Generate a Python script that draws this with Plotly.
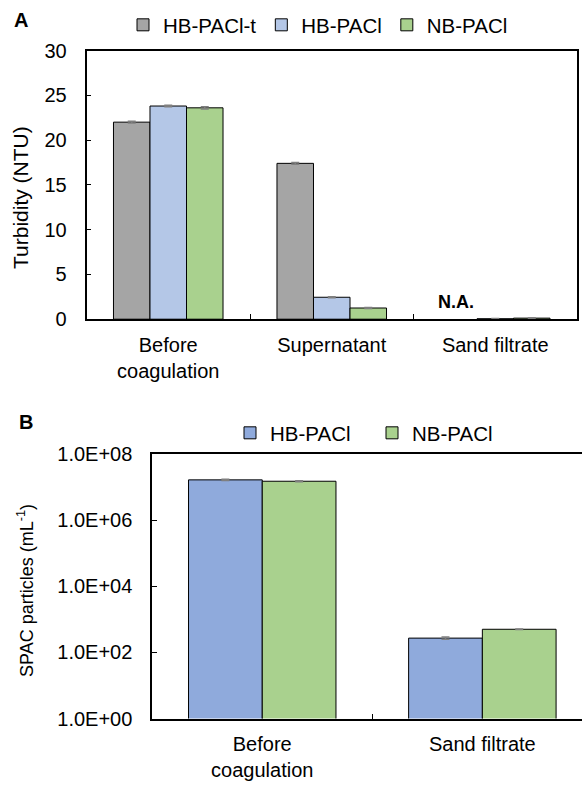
import plotly.graph_objects as go

# ---- Panel A: turbidity ----
categories_a = ["Before coagulation", "Supernatant", "Sand filtrate"]
tick_labels_a = ["Before<br>coagulation", "Supernatant", "Sand filtrate"]
hb_t_turbidity = [22.0, 17.4, None]          # no value for sand filtrate (N.A.)
hb_turbidity = [23.8, 2.45, 0.05]
nb_turbidity = [23.6, 1.25, 0.12]
hb_t_turbidity_err = [0.1, 0.1, 0.0]
hb_turbidity_err = [0.08, 0.06, 0.02]
nb_turbidity_err = [0.12, 0.05, 0.03]
y_ticks_a = [0, 5, 10, 15, 20, 25, 30]

# ---- Panel B: SPAC particle counts ----
categories_b = ["Before coagulation", "Sand filtrate"]
tick_labels_b = ["Before<br>coagulation", "Sand filtrate"]
hb_particles = [1.65e7, 270]
nb_particles = [1.5e7, 500]
hb_particles_err = [6e5, 20]
nb_particles_err = [6e5, 10]
y_ticks_b = [1, 1e2, 1e4, 1e6, 1e8]
y_tick_text_b = ["1.0E+00", "1.0E+02", "1.0E+04", "1.0E+06", "1.0E+08"]

FONT = "Liberation Sans, Arial, sans-serif"
W, H = 582, 785
GREY, LBLUE, GREEN, BLUE = "#A5A5A5", "#B4C7E7", "#A9D18E", "#8FAADC"


def px_x(p):
    return p / W


def px_y(p):
    return 1 - p / H


def err(arr):
    return dict(type="data", array=arr, visible=True, color="#7F7F7F",
                thickness=1.5, width=4)


fig = go.Figure()

for name, vals, e, col in [("HB-PACl-t", hb_t_turbidity, hb_t_turbidity_err, GREY),
                           ("HB-PACl", hb_turbidity, hb_turbidity_err, LBLUE),
                           ("NB-PACl", nb_turbidity, nb_turbidity_err, GREEN)]:
    fig.add_trace(go.Bar(x=categories_a, y=vals, name=name, error_y=err(e),
                         marker=dict(color=col, line=dict(color="black", width=1)),
                         xaxis="x", yaxis="y", legend="legend"))

for name, vals, e, col, lg in [("HB-PACl", hb_particles, hb_particles_err, BLUE, "legend2"),
                               ("NB-PACl", nb_particles, nb_particles_err, GREEN, "legend3")]:
    fig.add_trace(go.Bar(x=categories_b, y=vals, name=name, error_y=err(e),
                         marker=dict(color=col, line=dict(color="black", width=1)),
                         xaxis="x2", yaxis="y2", legend=lg))

axis_common = dict(showline=True, linecolor="black", linewidth=1.7,
                   ticks="inside", ticklen=5, tickwidth=1, tickcolor="black",
                   showgrid=False, zeroline=False, automargin=False,
                   tickfont=dict(family=FONT, size=20, color="black"))

legend_common = dict(orientation="h", font=dict(family=FONT, size=20.5, color="black"),
                     bgcolor="rgba(0,0,0,0)", borderwidth=0, itemclick=False,
                     xanchor="left", yanchor="middle")

fig.update_layout(
    template="none",
    width=W, height=H, margin=dict(l=0, r=0, t=0, b=0, pad=0, autoexpand=False),
    paper_bgcolor="white", plot_bgcolor="white",
    barmode="group", bargap=0.33, bargroupgap=0,
    font=dict(family=FONT, color="black"),
    xaxis=dict(domain=[px_x(86.5), px_x(577)], anchor="y", mirror=True,
               type="category", range=[-0.5, 2.5], tickson="boundaries",
               tickvals=categories_a, ticktext=tick_labels_a, ticklabelstandoff=7,
               **axis_common),
    yaxis=dict(domain=[px_y(319.2), px_y(50.5)], anchor="x", mirror=True,
               range=[0, 30], tickvals=y_ticks_a, ticklabelstandoff=14,
               **axis_common),
    xaxis2=dict(domain=[px_x(152.2), 1.0], anchor="y2", mirror=True,
                type="category", range=[-0.5, -0.5 + (582 - 152.2) / 220.1],
                tickson="boundaries", tickvals=categories_b, ticktext=tick_labels_b,
                ticklabelstandoff=7, **axis_common),
    yaxis2=dict(domain=[px_y(718.5), px_y(454)], anchor="x2", type="log",
                range=[0, 8], tickvals=y_ticks_b, ticktext=y_tick_text_b,
                ticklabelstandoff=14, **axis_common),
    legend=dict(x=px_x(123), y=px_y(25), **legend_common),
    legend2=dict(x=px_x(230), y=px_y(433), **legend_common),
    legend3=dict(x=px_x(372), y=px_y(433), **legend_common),
)


def label(text, xp, yp, size, angle=0):
    fig.add_annotation(text=text, x=px_x(xp), y=px_y(yp), xref="paper", yref="paper",
                       xanchor="center", yanchor="middle", textangle=angle,
                       showarrow=False, font=dict(family=FONT, size=size, color="black"))


# panel letters and axis titles
label("<b>A</b>", 21, 20, 20)
label("<b>B</b>", 26, 422, 20)
label("Turbidity (NTU)", 21, 198, 21, -90)
label("SPAC particles (mL<sup>-1</sup>)", 25, 591, 18, -90)

# no HB-PACl-t measurement for the sand filtrate
fig.add_annotation(text="<b>N.A.</b>", x=1.76, y=1.9, xref="x", yref="y",
                   xanchor="center", yanchor="middle", showarrow=False,
                   font=dict(family=FONT, size=18, color="black"))

fig.write_html("out.html")
